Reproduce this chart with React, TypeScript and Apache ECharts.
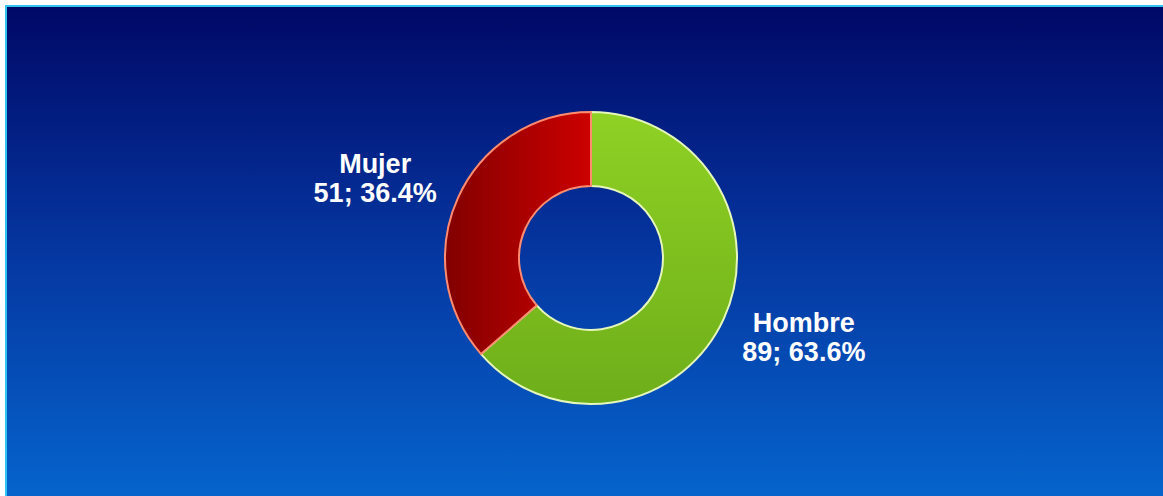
import React, { useEffect, useRef } from "react";
import * as echarts from "echarts";

const categories = ["Hombre", "Mujer"];
const values = [89, 51];

export default function App() {
  const ref = useRef<HTMLDivElement>(null);
  useEffect(() => {
    if (!ref.current) return;
    const chart = echarts.init(ref.current, null, { renderer: "svg" });
    const fills = [
      new echarts.graphic.LinearGradient(0, 0, 0, 1, [
        { offset: 0, color: "#8fd124" },
        { offset: 1, color: "#6eae1a" },
      ]),
      new echarts.graphic.LinearGradient(0, 0, 1, 0, [
        { offset: 0, color: "#820000" },
        { offset: 1, color: "#cc0000" },
      ]),
    ];
    const borders = ["#e6f7bc", "#ff8c70"];
    chart.setOption({
      animation: false,
      backgroundColor: "#ffffff",
      graphic: [
        {
          type: "rect",
          z: -10,
          silent: true,
          shape: { x: 6, y: 6, width: 1163 - 6, height: 496 - 6 },
          style: {
            fill: new echarts.graphic.LinearGradient(0, 0, 0, 1, [
              { offset: 0, color: "#000866" },
              { offset: 0.5, color: "#0536a0" },
              { offset: 1, color: "#0564cc" },
            ]),
          },
        },
        {
          type: "line",
          z: -9,
          silent: true,
          shape: { x1: 5, y1: 6, x2: 1163, y2: 6 },
          style: { stroke: "#2ec4f4", lineWidth: 2 },
        },
        {
          type: "line",
          z: -9,
          silent: true,
          shape: { x1: 6, y1: 5, x2: 6, y2: 496 },
          style: { stroke: "#2ec4f4", lineWidth: 2 },
        },
      ],
      series: [
        {
          type: "pie",
          center: [591, 258],
          radius: [72, 146],
          startAngle: 90,
          clockwise: true,
          avoidLabelOverlap: false,
          data: categories.map((name, i) => ({
            name,
            value: values[i],
            itemStyle: { color: fills[i], borderColor: borders[i], borderWidth: 2 },
          })),
          label: {
            show: true,
            position: "outside",
            formatter: (p: any) =>
              `{n|${p.name}}\n{n|${p.value}; ${Number(p.percent).toFixed(1)}%}`,
            rich: {
              n: {
                align: "center",
                color: "#ffffff",
                fontFamily: "'Liberation Sans', Arial, sans-serif",
                fontWeight: "bold",
                fontSize: 27,
                lineHeight: 29,
              },
            },
          },
          labelLine: { show: false, length: 18, length2: 0 },
          labelLayout: (p: any) => (p.dataIndex === 0 ? { dx: -3, dy: 12 } : { dx: 0, dy: -12 }),
        },
      ],
    });
    return () => chart.dispose();
  }, []);
  return (
    <div
      ref={ref}
      style={{ position: "fixed", left: 0, top: 0, width: 1163, height: 496 }}
    />
  );
}
